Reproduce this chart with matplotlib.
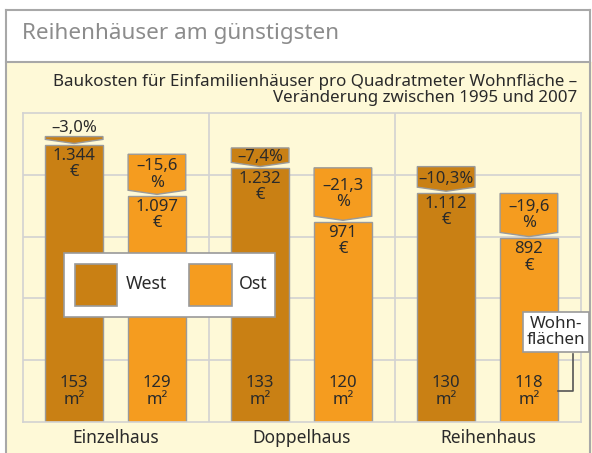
import matplotlib
matplotlib.use("Agg")
import matplotlib.pyplot as plt
from matplotlib.patches import Rectangle, Polygon
from matplotlib.lines import Line2D

plt.rcParams["font.family"] = ["Noto Sans", "DejaVu Sans"]

# Baukosten je m² Wohnfläche 2007 (Euro) und Veränderung gegenüber 1995 (%)
categories = ["Einzelhaus", "Doppelhaus", "Reihenhaus"]
west_cost = [1344, 1232, 1112]
ost_cost = [1097, 971, 892]
west_change = [-3.0, -7.4, -10.3]
ost_change = [-15.6, -21.3, -19.6]
west_area = [153, 133, 130]
ost_area = [129, 120, 118]
series_names = ["West", "Ost"]

WIDTH, HEIGHT = 592, 453
WEST_COLOR = "#c98014"
OST_COLOR = "#f59c1f"
PANEL_COLOR = "#fef9d7"
EDGE = "#9a9a9a"
TEXT = "#2a2a2a"
FS = 12
LS = 1.05

BAR_WIDTH = 0.31
OFFSETS = [0.275, 0.72]
TIP_GAP = 8       # Euro between chevron tip and bar top
TIP_DEPTH = 20    # Euro from chevron shoulder to tip


def fx(px):
    return px / WIDTH


def fy(py):
    return 1 - py / HEIGHT


def de_number(value):
    return f"{value:,}".replace(",", ".")


def de_percent(value):
    return f"{value:.1f}".replace(".", ",").replace("-", "\u2013")


fig = plt.figure(figsize=(WIDTH / 100, HEIGHT / 100), dpi=100)
fig.patch.set_facecolor("white")

# frame: white title band on top, pale yellow panel below
fig.patches.append(Rectangle((fx(6), 0), fx(586), fy(62), transform=fig.transFigure,
                             facecolor=PANEL_COLOR, edgecolor="none", zorder=-2))
for line in [([fx(6), fx(590)], [fy(9.5), fy(9.5)]),
             ([fx(6), fx(590)], [fy(62), fy(62)]),
             ([fx(6), fx(6)], [fy(9.5), 0]),
             ([fx(590), fx(590)], [fy(9.5), 0])]:
    fig.lines.append(Line2D(*line, transform=fig.transFigure, color="#a8a8a8", lw=1.5,
                            zorder=-1))

fig.text(fx(22), fy(34), "Reihenhäuser am günstigsten", fontsize=16.2, color="#8c8c8c",
         ha="left", va="center")
fig.text(fx(577), fy(90), "Baukosten für Einfamilienhäuser pro Quadratmeter Wohnfläche \u2013\n"
         "Veränderung zwischen 1995 und 2007", fontsize=12.2, color=TEXT,
         ha="right", va="center", linespacing=LS)

ax = fig.add_axes([fx(23), fy(422), fx(581) - fx(23), fy(113) - fy(422)])
ax.set_facecolor(PANEL_COLOR)
ax.set_xlim(0, 3)
ax.set_ylim(0, 1500)
ax.set_yticks([300, 600, 900, 1200])
ax.set_xticks([1, 2])
ax.grid(True, color="#d2d2d2", lw=1.2, zorder=0)
ax.tick_params(length=0, labelleft=False, labelbottom=False)
for spine in ax.spines.values():
    spine.set_color("#d2d2d2")
    spine.set_linewidth(1.2)

series = [
    (west_cost, west_change, west_area, WEST_COLOR),
    (ost_cost, ost_change, ost_area, OST_COLOR),
]
for s, (costs, changes, areas, color) in enumerate(series):
    xs = [i + OFFSETS[s] for i in range(len(categories))]
    ax.bar(xs, costs, width=BAR_WIDTH, color=color, edgecolor=EDGE, lw=1, zorder=2)
    for x, cost, change, area in zip(xs, costs, changes, areas):
        # chevron spanning from the 1995 level down to the 2007 bar
        before = cost / (1 + change / 100)
        tip = cost + TIP_GAP
        shoulder = tip + TIP_DEPTH
        left, right = x - BAR_WIDTH / 2, x + BAR_WIDTH / 2
        ax.add_patch(Polygon([(left, before), (right, before), (right, shoulder),
                              (x, tip), (left, shoulder)], closed=True,
                             facecolor=color, edgecolor=EDGE, lw=1, zorder=2))
        pct = de_percent(change)
        drop = before - cost
        if drop < 60:
            ax.text(x, before + 40, pct + "%", ha="center", va="center",
                    fontsize=FS, color=TEXT, zorder=4)
        elif drop < 150:
            ax.text(x, (before + shoulder) / 2 - 8, pct + "%", ha="center", va="center",
                    fontsize=FS, color=TEXT, zorder=4)
        else:
            ax.text(x, (before + shoulder) / 2 - 10, pct + "\n%", ha="center", va="center",
                    fontsize=FS, color=TEXT, linespacing=LS, zorder=4)
        ax.text(x, cost - 92, de_number(cost) + "\n\u20ac", ha="center", va="center",
                fontsize=FS, color=TEXT, linespacing=LS, zorder=4)
        ax.text(x, 147, f"{area}\nm\u00b2", ha="center", va="center",
                fontsize=FS, color=TEXT, linespacing=LS, zorder=4)

for i, name in enumerate(categories):
    ax.text(i + 0.5, -80, name, ha="center", va="center", fontsize=12.5,
            color=TEXT, clip_on=False)

# legend box
fig.patches.append(Rectangle((fx(64), fy(317)), fx(275) - fx(64), fy(253) - fy(317),
                             transform=fig.transFigure, facecolor="white",
                             edgecolor=EDGE, lw=1.2, zorder=5))
for name, color, px, tx in [(series_names[0], WEST_COLOR, 74.5, 126),
                            (series_names[1], OST_COLOR, 188.5, 239)]:
    fig.patches.append(Rectangle((fx(px), fy(306)), fx(43), fy(264) - fy(306),
                                 transform=fig.transFigure, facecolor=color,
                                 edgecolor=EDGE, lw=1.2, zorder=6))
    fig.text(fx(tx), fy(284), name, fontsize=12.8, color=TEXT, ha="left",
             va="center", zorder=7)

# callout for the living-space figures
ost_last_right = len(categories) - 1 + OFFSETS[1] + BAR_WIDTH / 2
callout_x = ost_last_right + (fx(573) - fx(558)) * 3 / (fx(581) - fx(23))
ax.plot([ost_last_right, callout_x, callout_x], [150, 150, 330],
        color="#555555", lw=1.2, clip_on=False, zorder=4)
fig.text(fx(556), fy(332), "Wohn-\nflächen", fontsize=12.2, color=TEXT,
         ha="center", va="center", linespacing=LS, zorder=7,
         bbox=dict(boxstyle="square,pad=0.22", facecolor="white", edgecolor=EDGE, lw=1.2))

fig.savefig("out.png", dpi=100)
